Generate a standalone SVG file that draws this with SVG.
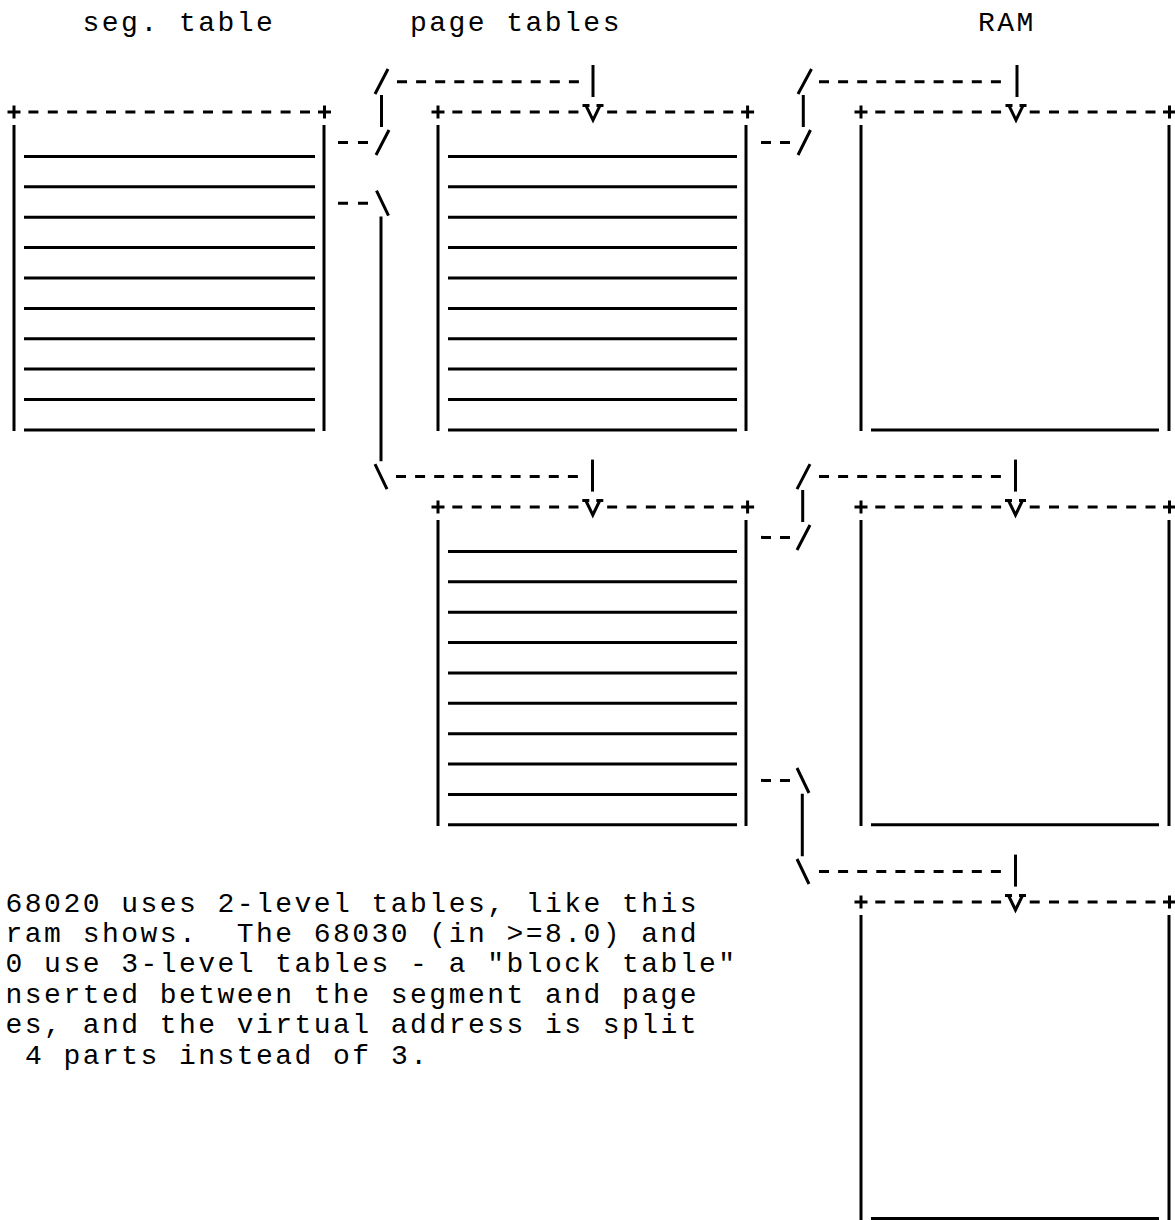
<svg xmlns="http://www.w3.org/2000/svg" xmlns:xlink="http://www.w3.org/1999/xlink" width="1175" height="1220" viewBox="0 0 1175 1220">
<style>
.ln{stroke:#000;stroke-width:3;fill:none;stroke-linecap:butt}
.d10{stroke-dasharray:10 9.4}
.dp{stroke-dasharray:10 9.35}
.dr{stroke-dasharray:10 9.3}
.dc{stroke-dasharray:10 9.1}
.t{font-family:"Liberation Mono","Courier New",monospace;font-size:28px;letter-spacing:2.46px;fill:#000;white-space:pre}
</style>
<defs>
<path id="plus" class="ln" d="M-6.5,0H6.5M0,-6.5V6.5"/>
<path id="vhead" class="ln" d="M-10.5,-6.5H-3.5M3.5,-6.5H10.5M-7,-6.5L0,8L7,-6.5"/>
</defs>
<rect x="0" y="0" width="1175" height="1220" fill="#fff"/>

<g id="titles">
<text class="t" x="82.6" y="30.6" xml:space="preserve">seg. table</text>
<text class="t" x="410" y="30.6" xml:space="preserve">page tables</text>
<text class="t" x="978" y="30.6" xml:space="preserve">RAM</text>
</g>

<g id="seg-table">
<use xlink:href="#plus" x="14" y="112.1"/>
<use xlink:href="#plus" x="324.5" y="112.1"/>
<line class="ln d10" x1="28.4" y1="112.1" x2="310" y2="112.1"/>
<path class="ln" d="M14,125V431M324,125V431"/>
<path class="ln" d="M24,156.5H315M24,186.8H315M24,217.2H315M24,247.6H315M24,278H315M24,308.4H315M24,338.7H315M24,369.1H315M24,399.5H315M24,429.9H315"/>
</g>

<g id="page-table-1">
<use xlink:href="#plus" x="438" y="112.1"/>
<use xlink:href="#plus" x="747.6" y="112.1"/>
<line class="ln dp" x1="452.35" y1="112.1" x2="578.45" y2="112.1"/>
<line class="ln dp" x1="607.15" y1="112.1" x2="733.25" y2="112.1"/>
<path class="ln" d="M438,125V431M746,125V431"/>
<path class="ln" d="M448,156.5H737M448,186.8H737M448,217.2H737M448,247.6H737M448,278H737M448,308.4H737M448,338.7H737M448,369.1H737M448,399.5H737M448,429.9H737"/>
</g>

<g id="ram-1">
<use xlink:href="#plus" x="861" y="112.1"/>
<use xlink:href="#plus" x="1169.5" y="112.1"/>
<line class="ln dr" x1="875.3" y1="112.1" x2="1001.1" y2="112.1"/>
<line class="ln dr" x1="1029.7" y1="112.1" x2="1155.5" y2="112.1"/>
<path class="ln" d="M861,125V431M1169,125V431"/>
<path class="ln" d="M871,429.9H1159"/>
</g>

<g id="page-table-2">
<use xlink:href="#plus" x="438" y="507"/>
<use xlink:href="#plus" x="747.6" y="507"/>
<line class="ln dp" x1="452.35" y1="507" x2="578.45" y2="507"/>
<line class="ln dp" x1="607.15" y1="507" x2="733.25" y2="507"/>
<path class="ln" d="M438,520V826M746,520V826"/>
<path class="ln" d="M448,551.4H737M448,581.8H737M448,612.2H737M448,642.5H737M448,672.9H737M448,703.3H737M448,733.7H737M448,764.1H737M448,794.4H737M448,824.8H737"/>
</g>

<g id="ram-2">
<use xlink:href="#plus" x="861" y="507"/>
<use xlink:href="#plus" x="1169.5" y="507"/>
<line class="ln dr" x1="875.3" y1="507" x2="1001.1" y2="507"/>
<line class="ln dr" x1="1029.7" y1="507" x2="1155.5" y2="507"/>
<path class="ln" d="M861,520V826M1169,520V826"/>
<path class="ln" d="M871,824.8H1159"/>
</g>

<g id="ram-3">
<use xlink:href="#plus" x="861" y="902"/>
<use xlink:href="#plus" x="1169.5" y="902"/>
<line class="ln dr" x1="875.3" y1="902" x2="1001.1" y2="902"/>
<line class="ln dr" x1="1029.7" y1="902" x2="1155.5" y2="902"/>
<path class="ln" d="M861,915V1221M1169,915V1221"/>
<path class="ln" d="M871,1218.5H1159"/>
</g>

<g id="connectors">
<g id="conn-seg-page1">
<line class="ln" x1="338" y1="142.5" x2="368" y2="142.5" stroke-dasharray="10 10"/>
<path class="ln" d="M376,155L389,130M381.5,95V127M375,94L388,69"/>
<line class="ln dc" x1="397" y1="81.7" x2="579" y2="81.7"/>
<path class="ln" d="M593,65V97"/>
<use xlink:href="#vhead" x="593" y="112.1"/>
</g>
<g id="conn-seg-page2">
<line class="ln" x1="338" y1="203.2" x2="368" y2="203.2" stroke-dasharray="10 10"/>
<path class="ln" d="M376.5,190.7L388.5,215.7M381,216.6V461.3M375,464.1L387,489.1"/>
<line class="ln dc" x1="396" y1="476.6" x2="578" y2="476.6"/>
<path class="ln" d="M592.5,459.6V491.6"/>
<use xlink:href="#vhead" x="592.8" y="507"/>
</g>
<g id="conn-page1-ram1">
<line class="ln" x1="761" y1="142.5" x2="790" y2="142.5" stroke-dasharray="10 9"/>
<path class="ln" d="M798,155L810.5,130M803.3,95V127M798,94L811.5,69"/>
<line class="ln dc" x1="819" y1="81.7" x2="1001" y2="81.7"/>
<path class="ln" d="M1017,65V97"/>
<use xlink:href="#vhead" x="1016" y="112.1"/>
</g>
<g id="conn-page2-ram2">
<line class="ln" x1="761" y1="537.4" x2="790" y2="537.4" stroke-dasharray="10 9"/>
<path class="ln" d="M797,550L810,525M802.7,490V522M797,489.1L810,464.1"/>
<line class="ln dc" x1="819" y1="476.6" x2="1001" y2="476.6"/>
<path class="ln" d="M1015.5,459.6V491.6"/>
<use xlink:href="#vhead" x="1015.5" y="507"/>
</g>
<g id="conn-page2-ram3">
<line class="ln" x1="761" y1="780.4" x2="790" y2="780.4" stroke-dasharray="10 9"/>
<path class="ln" d="M797,768L809,793M802.3,793.8V856.2M797,859L809,884"/>
<line class="ln dc" x1="819" y1="871.6" x2="1001" y2="871.6"/>
<path class="ln" d="M1015.5,854.6V886.6"/>
<use xlink:href="#vhead" x="1015.5" y="902"/>
</g>
</g>

<g id="note">
<text class="t" x="5.6" y="911.7" xml:space="preserve">68020 uses 2-level tables, like this</text>
<text class="t" x="5.6" y="942" xml:space="preserve">ram shows.  The 68030 (in &gt;=8.0) and</text>
<text class="t" x="5.6" y="972.4" xml:space="preserve">0 use 3-level tables - a &quot;block table&quot;</text>
<text class="t" x="5.6" y="1002.8" xml:space="preserve">nserted between the segment and page</text>
<text class="t" x="5.6" y="1033.2" xml:space="preserve">es, and the virtual address is split</text>
<text class="t" x="24.9" y="1063.6" xml:space="preserve">4 parts instead of 3.</text>
</g>
</svg>
